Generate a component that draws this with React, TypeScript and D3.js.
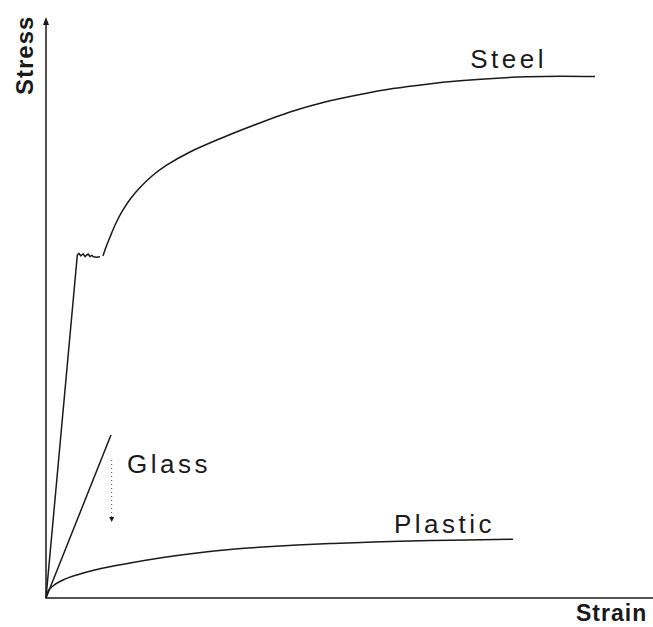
import React from "react";
import * as d3 from "d3";

// ---- data (strain, stress) in arbitrary units ----
const steelElasticStrain = [0, 5.22, 5.5, 5.78, 6.0, 6.22, 6.5, 6.78, 7.05, 7.33, 7.62, 7.88, 8.45, 9.0];
const steelElasticStress = [0, 59.14, 59.43, 58.97, 59.19, 59.31, 58.84, 59.14, 59.31, 58.84, 59.09, 58.84, 58.74, 58.84];

const steelPlasticStrain = [9.5, 9.83, 10.67, 11.67, 12.83, 14.17, 15.67, 17.67, 20.17, 24.0, 29.5, 35.17, 40.67, 46.17, 52.33, 57.83, 63.5, 69.0, 74.5, 80.17, 85.67, 91.5];
const steelPlasticStress = [58.97, 60.0, 62.24, 64.66, 66.9, 68.97, 70.78, 72.76, 74.66, 76.9, 79.4, 81.72, 83.79, 85.43, 86.81, 87.83, 88.59, 89.16, 89.59, 89.86, 89.97, 89.91];

const plasticStrain = [0, 0.33, 1.17, 2.83, 5.67, 8.5, 14.0, 19.5, 25.17, 30.67, 36.17, 41.83, 47.83, 53.5, 59.0, 64.5, 70.17, 77.83];
const plasticStress = [0, 1.12, 2.07, 3.1, 4.14, 4.91, 6.03, 6.98, 7.76, 8.36, 8.79, 9.14, 9.4, 9.6, 9.78, 9.91, 10.02, 10.12];

const glassStrain = [0, 10.83];
const glassStress = [0, 28.1];

// fracture indicator for glass (strain, stress from -> to)
const glassFractureStrain = 10.95;
const glassFractureStress = [23.79, 13.1];

const seriesLabels = ["Steel", "Glass", "Plastic"];
const labelStrain = [70.7, 13.5, 58.0];
const labelStress = [91.4, 21.5, 11.2];

const xAxisTitle = "Strain";
const yAxisTitle = "Stress";

const W = 653;
const H = 627;

export default function App() {
  const x = d3.scaleLinear().domain([0, 100]).range([46, 646]);
  const y = d3.scaleLinear().domain([0, 100]).range([598, 18]);

  const line = d3
    .line<[number, number]>()
    .x((d) => x(d[0]))
    .y((d) => y(d[1]));
  const smooth = d3
    .line<[number, number]>()
    .x((d) => x(d[0]))
    .y((d) => y(d[1]))
    .curve(d3.curveMonotoneX);
  const spline = d3
    .line<[number, number]>()
    .x((d) => x(d[0]))
    .y((d) => y(d[1]))
    .curve(d3.curveCatmullRom.alpha(0.5));

  const zip = (a: number[], b: number[]) => a.map((v, i) => [v, b[i]] as [number, number]);

  const x0 = x(0);
  const y0 = y(0);
  const yTop = y(100) - 1;

  const fx = x(glassFractureStrain);
  const fy1 = y(glassFractureStress[0]);
  const fy2 = y(glassFractureStress[1]);

  const ink = "#1a1a1a";

  return (
    <svg
      width={W}
      height={H}
      style={{ position: "absolute", left: 0, top: 0, background: "#fff" }}
      fontFamily="'Liberation Sans', Arial, sans-serif"
    >
      {/* axes */}
      <line x1={x0} y1={y0} x2={x0} y2={yTop + 6} stroke={ink} strokeWidth={1.5} />
      <path d={`M${x0},${yTop} L${x0 - 3},${yTop + 8} L${x0 + 3},${yTop + 8} Z`} fill={ink} />
      <line x1={x0 - 0.75} y1={y0} x2={W} y2={y0} stroke={ink} strokeWidth={1.6} />

      {/* steel */}
      <path d={line(zip(steelElasticStrain, steelElasticStress)) || ""} fill="none" stroke={ink} strokeWidth={1.5} strokeLinejoin="round" />
      <path d={spline(zip(steelPlasticStrain, steelPlasticStress)) || ""} fill="none" stroke={ink} strokeWidth={1.5} />

      {/* glass */}
      <path d={line(zip(glassStrain, glassStress)) || ""} fill="none" stroke={ink} strokeWidth={1.5} />
      <line x1={fx} y1={fy1} x2={fx} y2={fy2 - 5} stroke="#444" strokeWidth={1} strokeDasharray="1,3" />
      <path d={`M${fx - 2.5},${fy2 - 5} L${fx + 2.5},${fy2 - 5} L${fx},${fy2} Z`} fill={ink} />

      {/* plastic */}
      <path d={smooth(zip(plasticStrain, plasticStress)) || ""} fill="none" stroke={ink} strokeWidth={1.5} />

      {/* series labels */}
      {seriesLabels.map((t, i) => (
        <text
          key={t}
          x={x(labelStrain[i])}
          y={y(labelStress[i])}
          fontSize={26}
          letterSpacing={3.5}
          fill={ink}
        >
          {t}
        </text>
      ))}

      {/* axis titles */}
      <text x={576} y={621} fontSize={23} fontWeight="bold" letterSpacing={1} fill={ink}>
        {xAxisTitle}
      </text>
      <text
        transform={`translate(33,95) rotate(-90)`}
        fontSize={24}
        fontWeight="bold"
        letterSpacing={1}
        fill={ink}
      >
        {yAxisTitle}
      </text>
    </svg>
  );
}
